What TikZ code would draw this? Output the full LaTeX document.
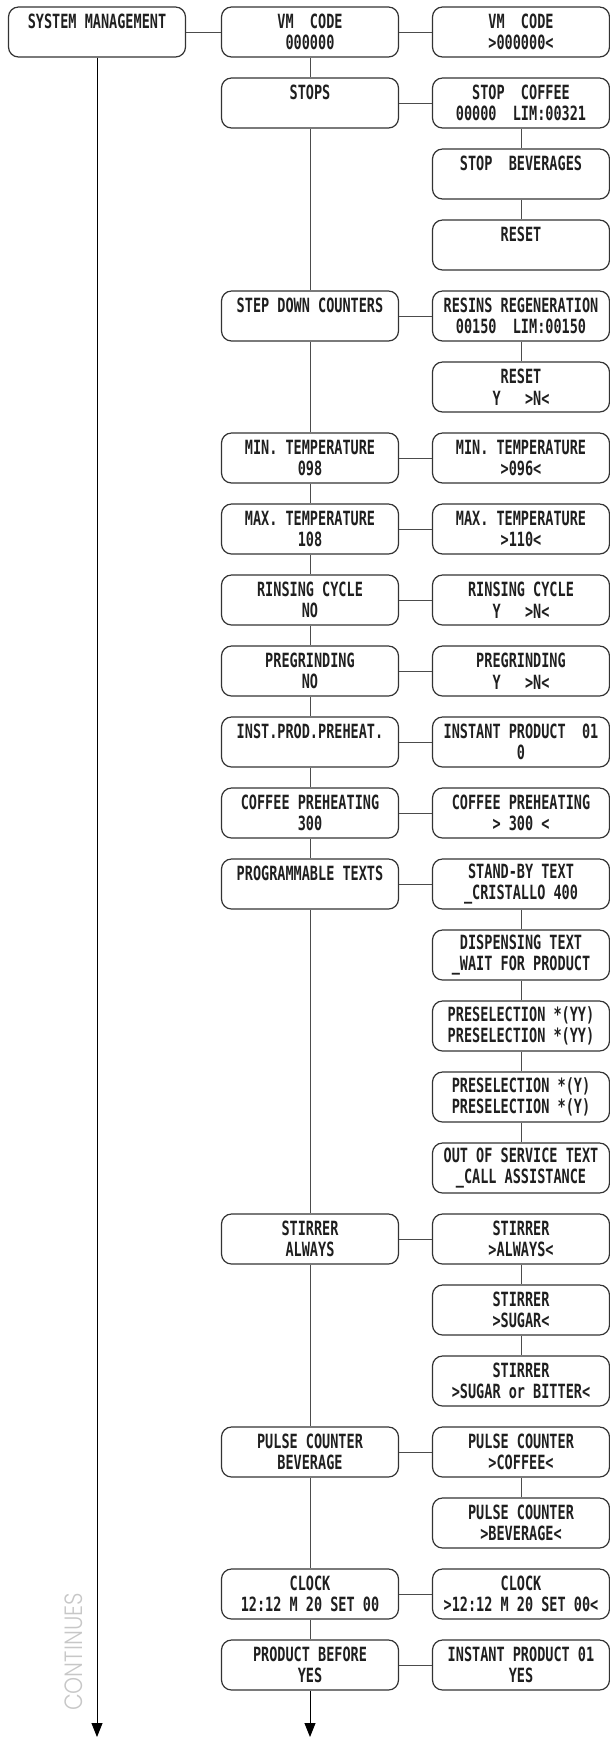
\documentclass[tikz,border=0pt]{standalone}
\usepackage{fontspec}
\usetikzlibrary{arrows.meta}
\newfontfamily\dispfont{DejaVu Sans Mono}[FakeStretch=0.69]
\newfontfamily\contfont{Poppins}[UprightFont=* Light,FakeStretch=0.87]
\definecolor{boxgray}{gray}{0.2}
\definecolor{linkgray}{gray}{0.3}

\begin{document}
\begin{tikzpicture}[x=0.5pt,y=-0.5pt,
                    box/.style={draw=boxgray,line width=0.6pt,rounded corners=5pt,minimum width=88.5pt,minimum height=25pt,
                                inner sep=0pt,align=center,text=black!88,font=\dispfont\bfseries\fontsize{9.8}{10.8}\selectfont},
                    link/.style={draw=linkgray,line width=0.5pt},
                    down/.style={draw=black,line width=0.5pt,-{Triangle[length=7pt,width=5.5pt]}}]

\useasboundingbox (0,0) rectangle (610,1737);

% left column
\node[box] (sysman) at (97,32) {SYSTEM MANAGEMENT\\~};

% middle column
\node[box] (vmcode) at (310,32) {VM~~CODE\\000000};
\node[box] (stops) at (310,103) {STOPS\\~};
\node[box] (stepdown) at (310,316) {STEP DOWN COUNTERS\\~};
\node[box] (mintemp) at (310,458) {MIN. TEMPERATURE\\098};
\node[box] (maxtemp) at (310,529) {MAX. TEMPERATURE\\108};
\node[box] (rinsing) at (310,600) {RINSING CYCLE\\NO};
\node[box] (pregrind) at (310,671) {PREGRINDING\\NO};
\node[box] (instheat) at (310,742) {INST.PROD.PREHEAT.\\~};
\node[box] (coffheat) at (310,813) {COFFEE PREHEATING\\300};
\node[box] (progtext) at (310,884) {PROGRAMMABLE TEXTS\\~};
\node[box] (stirrer) at (310,1239) {STIRRER\\ALWAYS};
\node[box] (pulse) at (310,1452) {PULSE COUNTER\\BEVERAGE};
\node[box] (clock) at (310,1594) {CLOCK\\12:12 M 20 SET 00};
\node[box] (prodbefore) at (310,1665) {PRODUCT BEFORE\\YES};

% right column
\node[box] (vmcodeset) at (521,32) {VM~~CODE\\>000000<};
\node[box] (stopcoff) at (521,103) {STOP~~COFFEE\\00000~~LIM:00321};
\node[box] (stopbev) at (521,174) {STOP~~BEVERAGES\\~};
\node[box] (stopreset) at (521,245) {RESET\\~};
\node[box] (resins) at (521,316) {RESINS REGENERATION\\00150~~LIM:00150};
\node[box] (resinreset) at (521,387) {RESET\\Y~~~>N<};
\node[box] (minset) at (521,458) {MIN. TEMPERATURE\\>096<};
\node[box] (maxset) at (521,529) {MAX. TEMPERATURE\\>110<};
\node[box] (rinseset) at (521,600) {RINSING CYCLE\\Y~~~>N<};
\node[box] (pregset) at (521,671) {PREGRINDING\\Y~~~>N<};
\node[box] (instset) at (521,742) {INSTANT PRODUCT~~01\\0};
\node[box] (coffset) at (521,813) {COFFEE PREHEATING\\>~300~<};
\node[box] (standby) at (521,884) {STAND-BY TEXT\\\_CRISTALLO 400};
\node[box] (dispense) at (521,955) {DISPENSING TEXT\\\_WAIT FOR PRODUCT};
\node[box] (presel2) at (521,1026) {PRESELECTION *(YY)\\PRESELECTION *(YY)};
\node[box] (presel1) at (521,1097) {PRESELECTION *(Y)\\PRESELECTION *(Y)};
\node[box] (outserv) at (521,1168) {OUT OF SERVICE TEXT\\\_CALL ASSISTANCE};
\node[box] (stiralw) at (521,1239) {STIRRER\\>ALWAYS<};
\node[box] (stirsug) at (521,1310) {STIRRER\\>SUGAR<};
\node[box] (stirbit) at (521,1381) {STIRRER\\>SUGAR or BITTER<};
\node[box] (pulscof) at (521,1452) {PULSE COUNTER\\>COFFEE<};
\node[box] (pulsbev) at (521,1523) {PULSE COUNTER\\>BEVERAGE<};
\node[box] (clockset) at (521,1594) {CLOCK\\>12:12 M 20 SET 00<};
\node[box] (instprod) at (521,1665) {INSTANT PRODUCT 01\\YES};

\node[rotate=90,inner sep=0pt,text=black!22,font=\contfont\fontsize{12.5}{12.5}\selectfont] (cont) at (74,1652) {CONTINUES};

% connectors
\draw[link] (sysman) -- (vmcode);
\foreach \a/\b in {vmcode/vmcodeset,stops/stopcoff,stepdown/resins,mintemp/minset,maxtemp/maxset,
                   rinsing/rinseset,pregrind/pregset,instheat/instset,coffheat/coffset,progtext/standby,
                   stirrer/stiralw,pulse/pulscof,clock/clockset,prodbefore/instprod}
{
\draw[link] (\a) -- (\b);
}

\draw[link] (vmcode) -- (stops) -- (stepdown) -- (mintemp) -- (maxtemp) -- (rinsing) -- (pregrind)
            -- (instheat) -- (coffheat) -- (progtext) -- (stirrer) -- (pulse) -- (clock) -- (prodbefore);
\draw[link] (stopcoff) -- (stopbev) -- (stopreset);
\draw[link] (resins) -- (resinreset);
\draw[link] (standby) -- (dispense) -- (presel2) -- (presel1) -- (outserv);
\draw[link] (stiralw) -- (stirsug) -- (stirbit);
\draw[link] (pulscof) -- (pulsbev);

\coordinate (leftend) at (97,1737);
\coordinate (midend) at (310,1737);
\draw[down] (sysman) -- (leftend);
\draw[down] (prodbefore) -- (midend);

\end{tikzpicture}
\end{document}
